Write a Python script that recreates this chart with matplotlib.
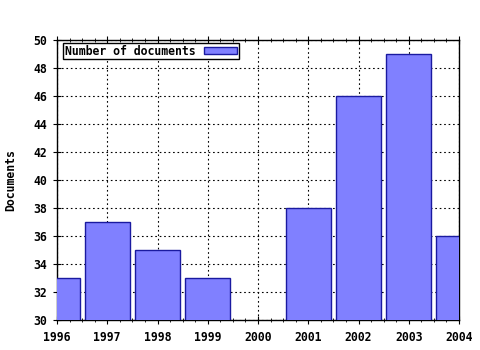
import numpy as np
import matplotlib
matplotlib.use('Agg')
import matplotlib.pyplot as plt
from matplotlib.ticker import MultipleLocator

# Dados (2000 fica abaixo do eixo, não aparece)
anos = [1996, 1997, 1998, 1999, 2000, 2001, 2002, 2003, 2004]
documentos = [33, 37, 35, 33, 0, 38, 46, 49, 36]

plt.rcParams['font.family'] = 'DejaVu Sans Mono'
plt.rcParams['font.weight'] = 'bold'
plt.rcParams['font.size'] = 8.3

fig = plt.figure(figsize=(4.8, 3.5), dpi=100)
ax = fig.add_axes([57/480, 1 - 320/350, (459 - 57)/480, (320 - 40)/350])

ax.bar(anos, documentos, width=0.9, color='#8080ff', edgecolor='#1a1aa0',
       linewidth=1.0, label='Number of documents', zorder=3)

ax.set_xlim(1996, 2004)
ax.set_ylim(30, 50)
ax.xaxis.set_major_locator(MultipleLocator(1))
ax.xaxis.set_minor_locator(MultipleLocator(0.25))
ax.yaxis.set_major_locator(MultipleLocator(2))
ax.grid(True, which='major', color='black', linestyle=(0, (1.5, 2.5)), linewidth=0.8, zorder=1)
ax.tick_params(axis='x', which='both', direction='inout', top=True, pad=5)
ax.tick_params(axis='x', which='major', length=6)
ax.tick_params(axis='x', which='minor', length=3)
ax.tick_params(axis='y', direction='inout', length=6, pad=4)
for s in ax.spines.values():
    s.set_linewidth(1.0)

ax.set_ylabel('Documents', fontweight='bold', labelpad=12)

leg = ax.legend(loc='upper left', frameon=True, fancybox=False, borderpad=0.15,
                handlelength=2.9, handleheight=0.5, borderaxespad=0.25,
                markerfirst=False, handletextpad=0.7)
leg.get_frame().set_edgecolor('black')
leg.get_frame().set_linewidth(1.0)
leg.get_frame().set_alpha(1)
# desloca a legenda um pouco para a direita
leg.set_bbox_to_anchor((0.008, 1.0))

plt.savefig('out.png', dpi=100)
